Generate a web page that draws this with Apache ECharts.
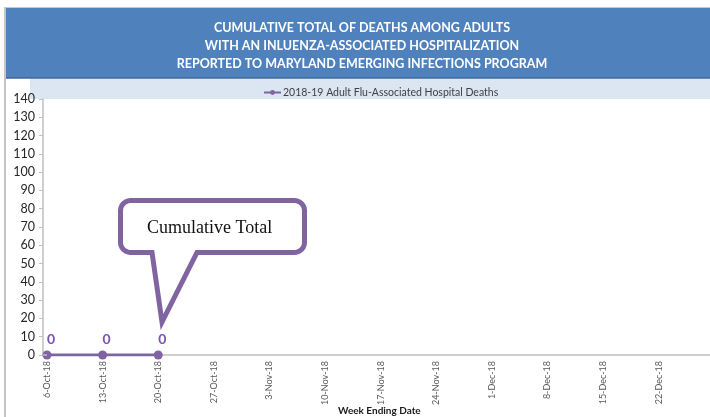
<!DOCTYPE html>
<html>
<head>
<meta charset="utf-8">
<script src="https://cdn.jsdelivr.net/npm/echarts@6/dist/echarts.min.js"></script>
<style>
html,body{margin:0;padding:0;background:#fff;}
#chart{width:710px;height:417px;}
</style>
</head>
<body>
<div id="chart"></div>
<script>
var categories = ['6-Oct-18','13-Oct-18','20-Oct-18','27-Oct-18','3-Nov-18','10-Nov-18','17-Nov-18','24-Nov-18','1-Dec-18','8-Dec-18','15-Dec-18','22-Dec-18','29-Dec-18','5-Jan-19'];
var deaths = [0, 0, 0, null, null, null, null, null, null, null, null, null, null, null];
var seriesName = '2018-19 Adult Flu-Associated Hospital Deaths';
var titleLines = ['CUMULATIVE TOTAL OF DEATHS AMONG ADULTS','WITH AN INLUENZA-ASSOCIATED HOSPITALIZATION','REPORTED TO MARYLAND EMERGING INFECTIONS PROGRAM'];
var yMin = 0, yMax = 140, yStep = 10;

var purple = '#8064A2';
var chart = echarts.init(document.getElementById('chart'), null, {renderer:'canvas'});

// callout outline (annotation shape): rounded box with a pointer
function calloutPoints(l, t, r, b, rad, p1, p2, tip) {
  var pts = [];
  function arc(cx, cy, a0, a1) {
    for (var i = 0; i <= 6; i++) {
      var a = a0 + (a1 - a0) * i / 6;
      pts.push([cx + rad * Math.cos(a), cy + rad * Math.sin(a)]);
    }
  }
  arc(l + rad, t + rad, Math.PI, Math.PI * 1.5);
  arc(r - rad, t + rad, Math.PI * 1.5, Math.PI * 2);
  arc(r - rad, b - rad, 0, Math.PI * 0.5);
  pts.push([p2, b]); pts.push(tip); pts.push([p1, b]);
  arc(l + rad, b - rad, Math.PI * 0.5, Math.PI);
  return pts;
}
var callout = calloutPoints(120.5, 200.5, 304.5, 252.5, 10, 152, 197, [162, 322]);

chart.setOption({
  backgroundColor: '#ffffff',
  animation: false,
  title: {
    text: titleLines.join('\n'),
    left: 357, top: 14, textAlign: 'center',
    textStyle: {color:'#ffffff', fontFamily:'Lato', fontWeight:'bold', fontSize:12.5, lineHeight:18}
  },
  legend: {
    data: [seriesName],
    left: 258, top: 82,
    itemWidth: 17, itemHeight: 6, itemGap: 4,
    textStyle: {fontFamily:'Lato', fontSize:10.5, color:'#404040', padding:[0,0,0,-3]}
  },
  grid: {left:47, top:99, bottom:62, width:723, containLabel:false, outerBoundsMode:'none'},
  xAxis: {
    type: 'category',
    data: categories,
    boundaryGap: false,
    axisLine: {lineStyle:{color:'#bfbfbf', width:1.5}},
    axisTick: {show:false},
    axisLabel: {rotate:90, fontFamily:'Lato', fontSize:9, color:'#595959', margin:6, interval:0}
  },
  yAxis: {
    type: 'value',
    min: yMin, max: yMax, interval: yStep,
    offset: 4,
    axisLine: {show:true, lineStyle:{color:'#bfbfbf', width:1.5}},
    axisTick: {show:true, length:4, lineStyle:{color:'#bfbfbf'}},
    splitLine: {show:false},
    axisLabel: {fontFamily:'Lato', fontSize:12.5, color:'#262626', margin:8}
  },
  series: [{
    name: seriesName,
    type: 'line',
    data: deaths,
    symbol: 'circle',
    symbolSize: 9,
    lineStyle: {color:purple, width:3},
    itemStyle: {color:purple},
    label: {show:true, position:'top', distance:4, offset:[4,0], color:'#7A52B3', fontFamily:'Lato', fontWeight:'bold', fontSize:14}
  }],
  graphic: [
    {type:'rect', z:-10, shape:{x:4, y:8, width:706, height:70}, style:{fill:'#4F81BD'}},
    {type:'line', z:-9, shape:{x1:4, y1:78, x2:710, y2:78}, style:{stroke:'#3B679C', lineWidth:1.5}},
    {type:'line', z:-9, shape:{x1:4, y1:7.5, x2:710, y2:7.5}, style:{stroke:'#c9c9c9', lineWidth:1}},
    {type:'rect', z:-10, shape:{x:30, y:79, width:680, height:20}, style:{fill:'#DCE6F2'}},
    {type:'line', z:-9, shape:{x1:5, y1:7, x2:5, y2:417}, style:{stroke:'#c4c4c4', lineWidth:2}},
    {type:'line', z:5, shape:{x1:43, y1:355, x2:47, y2:355}, style:{stroke:'#bfbfbf', lineWidth:1.5}},
    {type:'polygon', z:20, shape:{points:callout}, style:{fill:'#ffffff', stroke:purple, lineWidth:5, lineJoin:'miter'}},
    {type:'text', z:21, left:147, top:219, style:{text:'Cumulative Total', fill:'#111', font:'18px "Liberation Serif"'}},
    {type:'text', z:5, left:338, top:406, style:{text:'Week Ending Date', fill:'#1a1a1a', font:'bold 10px Lato'}}
  ]
});
</script>
</body>
</html>
